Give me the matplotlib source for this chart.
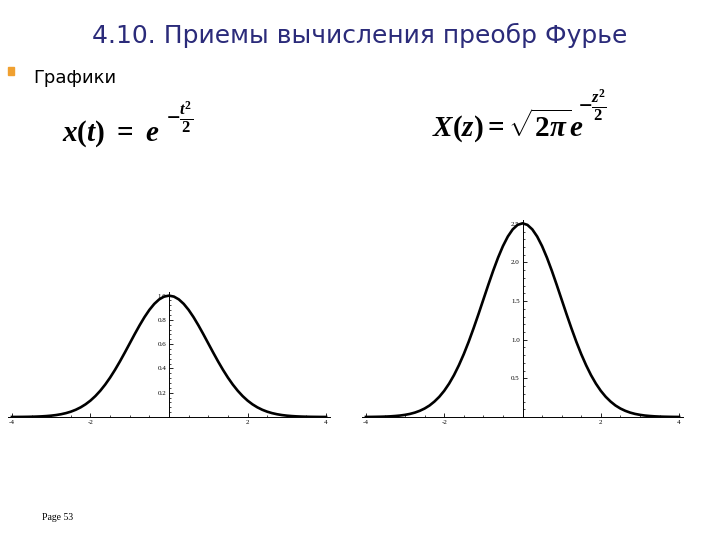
import matplotlib.pyplot as plt
from matplotlib.ticker import MultipleLocator, FixedLocator

# values at t = -4 .. 4, step 0.125
t_vals = [-4.0, -3.875, -3.75, -3.625, -3.5, -3.375, -3.25, -3.125, -3.0, -2.875, -2.75,
          -2.625, -2.5, -2.375, -2.25, -2.125, -2.0, -1.875, -1.75, -1.625, -1.5, -1.375,
          -1.25, -1.125, -1.0, -0.875, -0.75, -0.625, -0.5, -0.375, -0.25, -0.125, 0.0,
          0.125, 0.25, 0.375, 0.5, 0.625, 0.75, 0.875, 1.0, 1.125, 1.25, 1.375, 1.5,
          1.625, 1.75, 1.875, 2.0, 2.125, 2.25, 2.375, 2.5, 2.625, 2.75, 2.875, 3.0,
          3.125, 3.25, 3.375, 3.5, 3.625, 3.75, 3.875, 4.0]
x_vals = [0.0003, 0.0005, 0.0009, 0.0014, 0.0022, 0.0034, 0.0051, 0.0076, 0.0111, 0.0160,
          0.0228, 0.0319, 0.0439, 0.0596, 0.0796, 0.1046, 0.1353, 0.1724, 0.2163, 0.2671,
          0.3247, 0.3886, 0.4578, 0.5311, 0.6065, 0.6820, 0.7548, 0.8226, 0.8825, 0.9321,
          0.9692, 0.9922, 1.0000, 0.9922, 0.9692, 0.9321, 0.8825, 0.8226, 0.7548, 0.6820,
          0.6065, 0.5311, 0.4578, 0.3886, 0.3247, 0.2671, 0.2163, 0.1724, 0.1353, 0.1046,
          0.0796, 0.0596, 0.0439, 0.0319, 0.0228, 0.0160, 0.0111, 0.0076, 0.0051, 0.0034,
          0.0022, 0.0014, 0.0009, 0.0005, 0.0003]
X_vals = [0.0008, 0.0013, 0.0023, 0.0035, 0.0055, 0.0085, 0.013, 0.019, 0.028, 0.040,
          0.057, 0.080, 0.110, 0.149, 0.200, 0.262, 0.339, 0.432, 0.542, 0.670,
          0.814, 0.974, 1.148, 1.331, 1.520, 1.709, 1.892, 2.062, 2.212, 2.336,
          2.429, 2.487, 2.507, 2.487, 2.429, 2.336, 2.212, 2.062, 1.892, 1.709,
          1.520, 1.331, 1.148, 0.974, 0.814, 0.670, 0.542, 0.432, 0.339, 0.262,
          0.200, 0.149, 0.110, 0.080, 0.057, 0.040, 0.028, 0.019, 0.013, 0.0085,
          0.0055, 0.0035, 0.0023, 0.0013, 0.0008]

left_xticks = [-4, -2, 2, 4]
left_yticks = [0.2, 0.4, 0.6, 0.8, 1.0]
right_xticks = [-4, -2, 2, 4]
right_yticks = [0.5, 1.0, 1.5, 2.0, 2.5]

plt.rcParams['mathtext.fontset'] = 'custom'
plt.rcParams['mathtext.rm'] = 'Liberation Serif:bold'
plt.rcParams['mathtext.it'] = 'Liberation Serif:italic:bold'

W, H = 720, 540
fig = plt.figure(figsize=(7.2, 5.4), dpi=100)


def px_axes(x0, y_top, x1, y_bot):
    return fig.add_axes([x0 / W, 1 - y_bot / H, (x1 - x0) / W, (y_bot - y_top) / H])


def mathematica_style(ax, xticks, yticks, ymax, fmt):
    ax.set_xlim(-4.1, 4.1)
    ax.set_ylim(0, ymax)
    for s in ['top', 'right']:
        ax.spines[s].set_visible(False)
    ax.spines['left'].set_position(('data', 0))
    ax.spines['left'].set_linewidth(0.7)
    ax.spines['bottom'].set_linewidth(0.7)
    ax.xaxis.set_major_locator(FixedLocator(xticks))
    ax.yaxis.set_major_locator(FixedLocator(yticks))
    ax.xaxis.set_minor_locator(MultipleLocator(0.5))
    ax.yaxis.set_minor_locator(MultipleLocator(yticks[0] / 5))
    ax.set_xticklabels([f"{v:g}" for v in xticks], fontsize=5, family='Liberation Serif')
    ax.set_yticklabels([fmt.format(v) for v in yticks], fontsize=5, family='Liberation Serif')
    ax.tick_params(which='major', direction='in', length=3, width=0.6, pad=2)
    ax.tick_params(which='minor', direction='in', length=1.5, width=0.5)
    ax.patch.set_alpha(0)


ax1 = px_axes(8, 292, 330, 417)
ax1.plot(t_vals, x_vals, color='black', lw=1.9)
mathematica_style(ax1, left_xticks, left_yticks, 1.03, "{:.1f}")

ax2 = px_axes(362, 220, 683, 417)
ax2.plot(t_vals, X_vals, color='black', lw=1.9)
mathematica_style(ax2, right_xticks, right_yticks, 2.55, "{:.1f}")

fig.text(360 / W, 1 - 35 / H, "4.10. Приемы вычисления преобр Фурье", ha='center', va='center',
         fontsize=18, color='#2b2b7a')
fig.patches.append(plt.Rectangle((8 / W, 1 - 75 / H), 6 / W, 8 / H, transform=fig.transFigure,
                                 color='#f0a030', figure=fig))
fig.text(33 / W, 1 - 78 / H, "Графики", ha='left', va='center', fontsize=13, color='black')

# formulas: base and raised exponent drawn separately
fig.text(62 / W, 1 - 141 / H, r"$x(t)\ =\ e$", ha='left', va='baseline', fontsize=21)
fig.text(166 / W, 1 - 117 / H, r"$-\frac{t^2}{2}$", ha='left', va='center', fontsize=17)
fig.text(432 / W, 1 - 137 / H, r"$X(z)=\sqrt{2\pi}e$", ha='left', va='baseline', fontsize=21)
fig.text(578 / W, 1 - 105 / H, r"$-\frac{z^2}{2}$", ha='left', va='center', fontsize=17)

fig.text(42 / W, 1 - 517 / H, "Page 53", ha='left', va='center', fontsize=7, family='Liberation Serif')

fig.savefig("out.png", dpi=100)
